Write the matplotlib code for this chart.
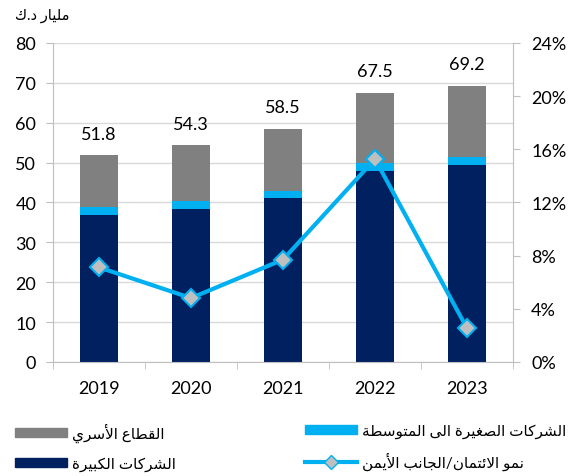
import matplotlib
matplotlib.use('Agg')
import matplotlib.pyplot as plt
from matplotlib.patches import Patch
from matplotlib.lines import Line2D
from matplotlib.ticker import PercentFormatter

plt.rcParams['font.family'] = ['Lato', 'DejaVu Sans']

# Data
years = ['2019', '2020', '2021', '2022', '2023']
large_corp = [36.8, 38.3, 41.1, 47.9, 49.4]
sme = [2.0, 2.0, 1.8, 1.9, 2.0]
household = [13.0, 14.0, 15.6, 17.7, 17.8]
totals = [51.8, 54.3, 58.5, 67.5, 69.2]
credit_growth = [0.0712, 0.0481, 0.0770, 0.1527, 0.0254]

unit_label = 'مليار د.ك'
lbl_household = 'القطاع الأسري'
lbl_sme = 'الشركات الصغيرة الى المتوسطة'
lbl_large = 'الشركات الكبيرة'
lbl_growth = 'نمو الائتمان/الجانب الأيمن'

# matplotlib has no Arabic shaping, so map letters to presentation forms
# (isolated, final[, initial, medial]) and flip to visual order
AR_FORMS = {
    'ا': (0xFE8D, 0xFE8E), 'أ': (0xFE83, 0xFE84),
    'ئ': (0xFE89, 0xFE8A, 0xFE8B, 0xFE8C), 'ب': (0xFE8F, 0xFE90, 0xFE91, 0xFE92),
    'ة': (0xFE93, 0xFE94), 'ت': (0xFE95, 0xFE96, 0xFE97, 0xFE98),
    'ج': (0xFE9D, 0xFE9E, 0xFE9F, 0xFEA0), 'د': (0xFEA9, 0xFEAA),
    'ر': (0xFEAD, 0xFEAE), 'س': (0xFEB1, 0xFEB2, 0xFEB3, 0xFEB4),
    'ش': (0xFEB5, 0xFEB6, 0xFEB7, 0xFEB8), 'ص': (0xFEB9, 0xFEBA, 0xFEBB, 0xFEBC),
    'ط': (0xFEC1, 0xFEC2, 0xFEC3, 0xFEC4), 'ع': (0xFEC9, 0xFECA, 0xFECB, 0xFECC),
    'غ': (0xFECD, 0xFECE, 0xFECF, 0xFED0), 'ق': (0xFED5, 0xFED6, 0xFED7, 0xFED8),
    'ك': (0xFED9, 0xFEDA, 0xFEDB, 0xFEDC), 'ل': (0xFEDD, 0xFEDE, 0xFEDF, 0xFEE0),
    'م': (0xFEE1, 0xFEE2, 0xFEE3, 0xFEE4), 'ن': (0xFEE5, 0xFEE6, 0xFEE7, 0xFEE8),
    'و': (0xFEED, 0xFEEE), 'ى': (0xFEEF, 0xFEF0),
    'ي': (0xFEF1, 0xFEF2, 0xFEF3, 0xFEF4),
}
LAM_ALEF = {'ا': (0xFEFB, 0xFEFC), 'أ': (0xFEF7, 0xFEF8)}


def ar(text):
    out = []
    i = 0
    while i < len(text):
        c = text[i]
        if c not in AR_FORMS:
            out.append(c)
            i += 1
            continue
        prev = text[i - 1] if i > 0 else ''
        link_prev = prev in AR_FORMS and len(AR_FORMS[prev]) == 4
        if c == 'ل' and i + 1 < len(text) and text[i + 1] in LAM_ALEF:
            iso, fin = LAM_ALEF[text[i + 1]]
            out.append(chr(fin if link_prev else iso))
            i += 2
            continue
        nxt = text[i + 1] if i + 1 < len(text) else ''
        forms = AR_FORMS[c]
        link_next = len(forms) == 4 and nxt in AR_FORMS
        if link_prev and link_next:
            f = forms[3]
        elif link_prev:
            f = forms[1]
        elif link_next:
            f = forms[2]
        else:
            f = forms[0]
        out.append(chr(f))
        i += 1
    return ''.join(out)[::-1]


navy = '#002060'
blue = '#00B0F0'
gray = '#808080'
axis_gray = '#BFBFBF'

fig = plt.figure(figsize=(5.76, 4.77), dpi=100)
ax = fig.add_axes([0.092, 0.239, 0.7986, 0.6688])

x = list(range(len(years)))
w = 0.42
bottom2 = [a + b for a, b in zip(large_corp, sme)]
ax.bar(x, large_corp, w, color=navy, zorder=2)
ax.bar(x, sme, w, bottom=large_corp, color=blue, zorder=2)
ax.bar(x, household, w, bottom=bottom2, color=gray, zorder=2)

for xi, t in zip(x, totals):
    ax.annotate(f'{t:.1f}', (xi, t), xytext=(0, 10), textcoords='offset points',
                ha='center', va='bottom', fontsize=13)

ax.set_xlim(-0.5, 4.5)
ax.set_ylim(0, 80)
ax.set_yticks(range(0, 81, 10))
ax.set_xticks(x)
ax.set_xticklabels(years)
ax.set_xticks([i - 0.5 for i in range(len(years) + 1)], minor=True)
ax.tick_params(axis='x', which='major', length=0, labelsize=13, pad=13)
ax.tick_params(axis='x', which='minor', length=5, color=axis_gray)
ax.tick_params(axis='y', length=5, color=axis_gray, labelsize=13, pad=7)
ax.grid(axis='y', color='#D9D9D9', lw=1, zorder=0)
ax.set_axisbelow(True)
for s in ['top', 'right']:
    ax.spines[s].set_visible(False)
for s in ['left', 'bottom']:
    ax.spines[s].set_color(axis_gray)

ax2 = ax.twinx()
ax2.plot(x, credit_growth, color=blue, lw=3, marker='D', markersize=9,
         markerfacecolor='#BFBFBF', markeredgecolor=blue, markeredgewidth=1.5, zorder=3)
ax2.set_ylim(0, 0.24)
ax2.set_yticks([0, 0.04, 0.08, 0.12, 0.16, 0.20, 0.24])
ax2.yaxis.set_major_formatter(PercentFormatter(1.0, decimals=0))
ax2.tick_params(axis='y', length=5, color=axis_gray, labelsize=13, pad=8)
for s in ['top', 'left', 'bottom']:
    ax2.spines[s].set_visible(False)
ax2.spines['right'].set_color(axis_gray)

fig.text(15 / 576, 1 - 16 / 477, ar(unit_label), fontsize=10.5, ha='left', va='center')

h_house = Patch(color=gray)
h_large = Patch(color=navy)
h_sme = Patch(color=blue)
h_growth = Line2D([0], [0], color=blue, lw=3, marker='D', markersize=7,
                  markerfacecolor='#BFBFBF', markeredgecolor=blue)

leg_kw = dict(frameon=False, fontsize=11, handlelength=3.4, handleheight=0.55,
              handletextpad=0.3, labelspacing=0.9, borderpad=0, borderaxespad=0,
              loc='center left')
fig.legend([h_house, h_large], [ar(lbl_household), ar(lbl_large)],
           bbox_to_anchor=(15 / 576, 1 - 448 / 477), **leg_kw)
fig.legend([h_sme, h_growth], [ar(lbl_sme), ar(lbl_growth)],
           bbox_to_anchor=(305 / 576, 1 - 448 / 477), **leg_kw)

fig.savefig('out.png', dpi=100)
